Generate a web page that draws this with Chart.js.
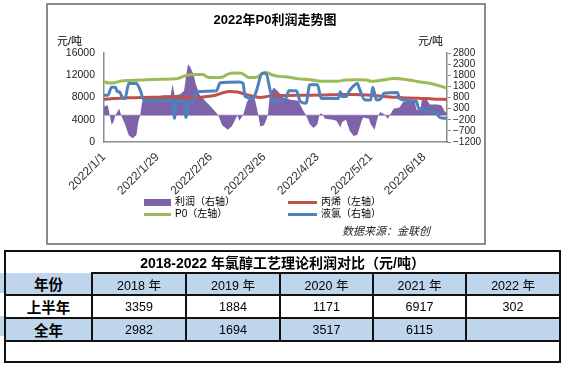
<!DOCTYPE html>
<html><head><meta charset="utf-8">
<script src="https://cdn.jsdelivr.net/npm/chart.js@4/dist/chart.umd.min.js"></script>
<style>
html,body{margin:0;padding:0;background:#fff;}
body{width:565px;height:365px;position:relative;overflow:hidden;font-family:"Liberation Sans","Noto Sans CJK SC",sans-serif;}
#frame{position:absolute;left:46px;top:3px;width:440px;height:242px;border:2px solid #8a8a8a;box-sizing:border-box;background:#fff;}
#c{position:absolute;left:0;top:0;}
.t{position:absolute;white-space:nowrap;color:#000;line-height:14px;}
.sw{position:absolute;}
table{position:absolute;left:4px;top:250px;border-collapse:collapse;table-layout:fixed;width:557px;}
td{border:2px solid #111;padding:0;text-align:center;font-size:12.5px;color:#000;overflow:hidden;white-space:nowrap;}
.b{font-weight:bold;font-size:14.5px;}
.blue td{background:#bed5ec;}
</style></head>
<body>
<div id="frame"></div>
<canvas id="c" width="565" height="245"></canvas>
<div class="t" style="left:175px;width:200px;text-align:center;top:12px;font-weight:bold;font-size:13px;line-height:16px;">2022年P0利润走势图</div>
<div class="t" style="left:57px;top:34px;font-size:11px;">元/吨</div>
<div class="t" style="left:418px;top:34px;font-size:11px;">元/吨</div>
<div class="sw" style="left:144px;top:199px;width:27px;height:7px;background:#7f63a8;"></div>
<div class="t" style="left:175px;top:195px;font-size:10px;">利润（右轴）</div>
<div class="sw" style="left:288px;top:201px;width:29px;height:3px;background:#c0504d;"></div>
<div class="t" style="left:321px;top:195px;font-size:10px;">丙烯（左轴）</div>
<div class="sw" style="left:144px;top:213px;width:27px;height:3px;background:#9bbb59;"></div>
<div class="t" style="left:175px;top:207px;font-size:10px;">P0（左轴）</div>
<div class="sw" style="left:288px;top:213px;width:29px;height:3px;background:#4f81bd;"></div>
<div class="t" style="left:321px;top:207px;font-size:10px;">液氯（右轴）</div>
<div class="t" style="left:342px;top:224px;font-size:11px;font-style:italic;color:#222;">数据来源：金联创</div>

<div class="sw" style="left:0;top:273px;width:5px;height:20px;background:#bed5ec;"></div>
<div class="sw" style="left:0;top:316px;width:5px;height:20px;background:#bed5ec;"></div>
<table>
<colgroup><col style="width:87px"><col style="width:94px"><col style="width:94px"><col style="width:93px"><col style="width:93px"><col style="width:94px"></colgroup>
<tr style="height:22px"><td colspan="6" class="b" style="font-size:14px;border-bottom:none;" id="tt"></td></tr>
<tr style="height:21px" class="blue" id="hdr"></tr>
<tr style="height:22px" id="r1"></tr>
<tr style="height:22px" class="blue" id="r2"></tr>
<tr style="height:21px"><td colspan="6"></td></tr>
</table>

<script>
// ---- chart data ----
const dateLabels = ['2022/1/1','2022/1/29','2022/2/26','2022/3/26','2022/4/23','2022/5/21','2022/6/18'];
const leftTicks = [0, 16000, 4000];    // min, max, step
const rightTicks = [-1200, 2800, 500]; // min, max, step

const profitDays = [0,2,3,4,5,6,8,9,11,13,15,17,18,19,20,22,27,32,35,36,37,40,42,44,45,47,48,50,53,56,58,60,62,65,67,68,70,71,73,75,77,79,81,82,84,86,87,89,91,94,98,102,104,106,108,110,112,113,114,116,120,122,124,125,127,129,131,133,135,136,139,140,142,143,144,145,147,149,150,152,155,157,161,163,164,166,167,169,171,175,177,179,180];
const profitValues = [400,450,0,-420,-300,0,300,0,-400,-900,-1030,-900,-300,0,600,800,850,900,900,1400,900,950,1100,2280,2200,1850,1450,950,650,400,200,0,-450,-650,-500,-350,0,-250,0,600,850,800,0,-500,-450,0,900,1250,1100,800,700,650,300,0,-400,-570,-400,0,100,-150,-200,-250,-550,-300,-200,-700,-930,-870,-300,-100,-150,-400,-650,-300,0,150,50,-150,0,300,350,600,650,650,250,250,800,750,480,480,450,150,100];

const chlorineDays = [0,2,4,6,7,8,10,11,13,17,19,21,36,37,38,42,43,45,47,49,59,61,71,73,74,78,80,83,85,87,89,92,95,97,101,103,106,108,112,114,123,124,125,127,129,133,134,137,140,141,143,145,147,154,155,157,162,164,165,168,170,174,176,178,180];
const chlorineValues = [900,900,1260,1260,1060,1060,760,760,1430,1430,1130,680,640,-140,640,640,-100,640,640,1060,1100,1460,1500,1440,850,760,1100,1890,1890,1200,600,690,690,1100,1100,620,540,1370,1370,760,760,1060,840,840,1130,1430,1200,690,690,1260,690,720,990,1030,760,690,640,620,330,260,170,140,-80,-130,-130];

const poDays = [0,3,5,7,10,14,20,25,30,38,41,44,48,52,54,58,62,65,68,72,74,76,80,83,85,88,92,97,102,108,115,122,127,133,138,140,143,147,152,155,160,165,170,174,177,180];
const poValues = [10850,10600,10600,10800,11000,11050,11150,11250,11300,11350,11700,12050,12150,12150,11700,11600,11650,12200,12400,12350,12000,11600,11650,12300,12500,12100,11800,11650,11350,11200,10900,10900,11150,11200,11150,10900,10950,11200,11400,11350,11150,10850,10600,10300,10000,9650];

const propyleneDays = [0,5,10,15,20,30,37,42,48,52,58,62,66,70,74,78,82,88,95,105,115,125,130,135,140,145,150,155,160,165,170,175,180];
const propyleneValues = [7700,7800,7900,7950,8000,8050,8100,8050,7950,8100,8350,8800,9100,9000,8600,8250,8000,8300,8350,8400,8450,8550,8550,8500,8400,8250,8100,8000,7900,7850,7800,7700,7650];

// ---- table data ----
const tableTitle = '2018-2022 年氯醇工艺理论利润对比（元/吨）';
const tableHeader = ['年份','2018 年','2019 年','2020 年','2021 年','2022 年'];
const rowH1 = ['上半年','3359','1884','1171','6917','302'];
const rowFull = ['全年','2982','1694','3517','6115',''];

document.getElementById('tt').textContent = tableTitle;
function fill(id, arr){ const tr=document.getElementById(id); arr.forEach((v,i)=>{const td=document.createElement('td'); td.textContent=v; if(i===0) td.className='b'; tr.appendChild(td);}); }
fill('hdr', tableHeader); fill('r1', rowH1); fill('r2', rowFull);
document.querySelector('#hdr td').style.borderTop='none';

const pts = (xs, ys) => xs.map((d,i)=>({x:d, y:ys[i]}));

const zeroLine = { id:'zeroLine', beforeDatasetsDraw(c){ const y=c.scales.y1.getPixelForValue(0); const a=c.chartArea; const g=c.ctx; g.save(); g.strokeStyle='#cdc2e0'; g.lineWidth=1.5; g.beginPath(); g.moveTo(a.left,y); g.lineTo(a.right,y); g.stroke(); g.restore(); } };

const fam = '"Liberation Sans","Noto Sans CJK SC",sans-serif';
new Chart(document.getElementById('c'), {
  type:'line',
  data:{ datasets:[
    {label:'液氯（右轴）', data:pts(chlorineDays, chlorineValues), yAxisID:'y1', borderColor:'#4f81bd', borderWidth:3, pointRadius:0, cubicInterpolationMode:'monotone', order:0, fill:false},
    {label:'丙烯（左轴）', data:pts(propyleneDays, propyleneValues), yAxisID:'y', borderColor:'#c0504d', borderWidth:3, pointRadius:0, cubicInterpolationMode:'monotone', order:1, fill:false},
    {label:'P0（左轴）', data:pts(poDays, poValues), yAxisID:'y', borderColor:'#9bbb59', borderWidth:3, pointRadius:0, cubicInterpolationMode:'monotone', order:2, fill:false},
    {label:'利润（右轴）', data:pts(profitDays, profitValues), yAxisID:'y1', borderWidth:0, borderColor:'rgba(0,0,0,0)', backgroundColor:'#7f63a8', pointRadius:0, tension:0, order:3, fill:'origin'}
  ]},
  options:{
    responsive:false, animation:false,
    layout:{padding:{left:0,right:0,top:53,bottom:0}},
    plugins:{legend:{display:false}, tooltip:{enabled:false}, title:{display:false}},
    scales:{
      x:{type:'linear', min:0, max:180, position:'bottom',
         grid:{display:true, drawOnChartArea:false, drawTicks:false},
         border:{display:true, color:'#8c8c8c', width:1.5},
         ticks:{stepSize:28, includeBounds:false, autoSkip:false, minRotation:45, maxRotation:45, padding:8, color:'#333', font:{size:12, family:fam},
                callback:(v)=> (v%28===0 && dateLabels[v/28]!==undefined) ? dateLabels[v/28] : ''},
         afterFit:(s)=>{ s.height = 103; }},
      y:{position:'left', min:leftTicks[0], max:leftTicks[1],
         ticks:{stepSize:leftTicks[2], autoSkip:false, padding:9, color:'#222', font:{size:10.5, family:fam}, callback:(v)=>String(v)},
         grid:{display:true, drawOnChartArea:false, drawTicks:false},
         border:{display:true, color:'#8c8c8c', width:1.5},
         afterFit:(s)=>{ s.width = 104; }},
      y1:{position:'right', min:rightTicks[0], max:rightTicks[1],
         ticks:{stepSize:rightTicks[2], autoSkip:false, padding:2, color:'#222', font:{size:10, family:fam}, callback:(v)=>String(v).replace('-','\u2212')},
         grid:{display:true, drawOnChartArea:false, drawTicks:true, tickLength:4, color:'#8c8c8c', lineWidth:1},
         border:{display:true, color:'#8c8c8c', width:1.5},
         afterFit:(s)=>{ s.width = 118; }}
    }
  },
  plugins:[zeroLine]
});
</script>
</body></html>
